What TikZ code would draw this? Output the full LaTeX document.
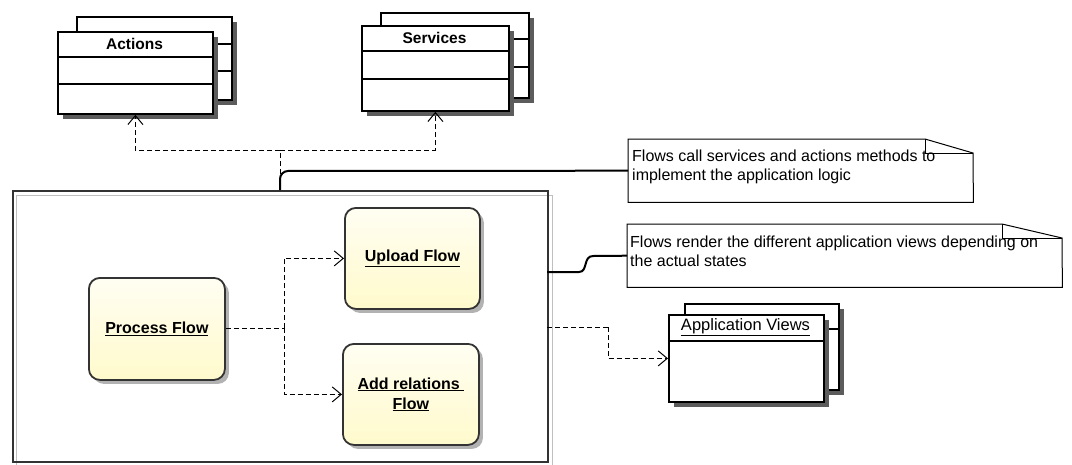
\documentclass[tikz,border=0pt]{standalone}
\usepackage{fontspec}
\setmainfont{Liberation Sans}
\usetikzlibrary{arrows.meta,shadows,calc}
\definecolor{shadowgray}{HTML}{5C5C5C}
\definecolor{flowtop}{HTML}{FFFEF2}
\definecolor{flowbot}{HTML}{FFFACC}
\definecolor{framedark}{HTML}{333333}
\tikzset{
  classbox/.style={draw=black, line width=1.8pt, fill=white, inner sep=0pt, anchor=north west,
    drop shadow={shadow xshift=5pt, shadow yshift=-5pt, fill=shadowgray, opacity=1}},
  classtitle/.style={inner sep=0pt, font=\fontsize{15.5}{17}\selectfont\bfseries},
  objtitle/.style={inner sep=0pt, font=\fontsize{16.5}{18}\selectfont},
  divider/.style={line width=1.8pt},
  flowbox/.style={draw=framedark, line width=1.8pt, rounded corners=11pt, inner sep=0pt, anchor=north west,
    top color=flowtop, bottom color=flowbot, align=center,
    font=\fontsize{16}{20}\selectfont\bfseries,
    drop shadow={shadow xshift=4pt, shadow yshift=-4pt, fill=black, opacity=0.3}},
  notebox/.style={inner sep=0pt, anchor=north west},
  noteline/.style={draw=black, line width=1pt},
  notetext/.style={inner sep=0pt, anchor=north west, align=left, font=\fontsize{16}{19}\selectfont},
  dep/.style={draw=black, line width=1pt, dash pattern=on 5pt off 3pt,
    -{Straight Barb[length=9pt,width=15pt,line width=1pt]}},
  depline/.style={draw=black, line width=1pt, dash pattern=on 5pt off 3pt},
  anchorline/.style={draw=black, line width=2pt},
}
\begin{document}
\begin{tikzpicture}[x=1pt,y=-1pt]
\useasboundingbox (0,0) rectangle (1072,464);

% ---------- Actions ----------
\node[classbox, minimum width=155pt, minimum height=83pt] (actionsback) at (76,16) {};
\draw[divider] (actionsback.west |- 0,44) -- (actionsback.east |- 0,44);
\draw[divider] (actionsback.west |- 0,71) -- (actionsback.east |- 0,71);
\node[classbox, minimum width=155pt, minimum height=82pt] (actions) at (57,31) {};
\draw[divider] (actions.west |- 0,57) -- (actions.east |- 0,57);
\draw[divider] (actions.west |- 0,84) -- (actions.east |- 0,84);
\node[classtitle] (actionstitle) at (134.5,44) {Actions};

% ---------- Services ----------
\node[classbox, minimum width=148pt, minimum height=85pt] (servicesback) at (380,12) {};
\draw[divider] (servicesback.west |- 0,39) -- (servicesback.east |- 0,39);
\draw[divider] (servicesback.west |- 0,67) -- (servicesback.east |- 0,67);
\node[classbox, minimum width=147pt, minimum height=85pt] (services) at (361,25) {};
\draw[divider] (services.west |- 0,51) -- (services.east |- 0,51);
\draw[divider] (services.west |- 0,79) -- (services.east |- 0,79);
\node[classtitle] (servicestitle) at (434.5,38) {Services};

% ---------- Application Views ----------
\node[classbox, minimum width=154pt, minimum height=86pt] (appviewsback) at (684,303) {};
\draw[divider] (appviewsback.west |- 0,329) -- (appviewsback.east |- 0,329);
\node[classbox, minimum width=155pt, minimum height=87pt] (appviews) at (668,314) {};
\draw[divider] (appviews.west |- 0,341) -- (appviews.east |- 0,341);
\node[objtitle] (appviewstitle) at (745.5,327) {\underline{Application Views}};

% ---------- Container ----------
\draw[draw=black!25, line width=1pt] (16,195) rectangle (552,466);
\node[draw=framedark, line width=2pt, inner sep=0pt, anchor=north west,
      minimum width=535pt, minimum height=271pt] (container) at (12,190) {};

% ---------- Flows ----------
\node[flowbox, minimum width=136pt, minimum height=102pt] (process) at (88,277) {\underline{Process Flow}};
\node[flowbox, minimum width=135pt, minimum height=101pt] (upload) at (344,207) {\underline{Upload Flow}};
\node[flowbox, minimum width=136pt, minimum height=101pt] (addrel) at (342,343) {\underline{Add relations\ }\\\underline{Flow}};

\coordinate (split) at (284,328);
\draw[depline] (process.east |- split) -- (split);
\draw[dep] (split) |- (upload.west);
\draw[dep] (split) |- (addrel.west);

% ---------- Dependencies to Actions / Services ----------
\coordinate (ctop) at (280,190);
\coordinate (cjoin) at (280,150);
\draw[depline] (ctop) -- (cjoin);
\draw[dep] (cjoin) -| (actions.south);
\draw[dep] (cjoin) -| (services.south);

% ---------- Notes ----------
\node[notebox, minimum width=345pt, minimum height=63pt] (note1) at (628,139) {};
\draw[noteline] (note1.north west) -- (925,139) -- (973,153) -- (note1.south east) -- (note1.south west) -- cycle;
\draw[noteline] (925,139) -- (925,153) -- (973,153);
\node[notetext] (note1text) at (632,150) {Flows call services and actions methods to\\implement the application logic};

\node[notebox, minimum width=435pt, minimum height=63pt] (note2) at (627,224) {};
\draw[noteline] (note2.north west) -- (1002,224) -- (1062,238) -- (note2.south east) -- (note2.south west) -- cycle;
\draw[noteline] (1002,224) -- (1002,238) -- (1062,238);
\node[notetext] (note2text) at (630,236) {Flows render the different application views depending on\\the actual states};

% note anchors
\draw[anchorline, rounded corners=8pt] (ctop) -- (280,171) -- (note1.west);
\coordinate (c2) at (547,272);
\draw[anchorline] (c2) -- (579,272) .. controls (588,272) and (583,256) .. (593,256) -- (note2.west);

% ---------- Dependency to Application Views ----------
\coordinate (c3) at (547,327);
\draw[depline] (c3) -- (608,327);
\draw[dep] (608,327) |- (appviews.west);
\end{tikzpicture}
\end{document}
